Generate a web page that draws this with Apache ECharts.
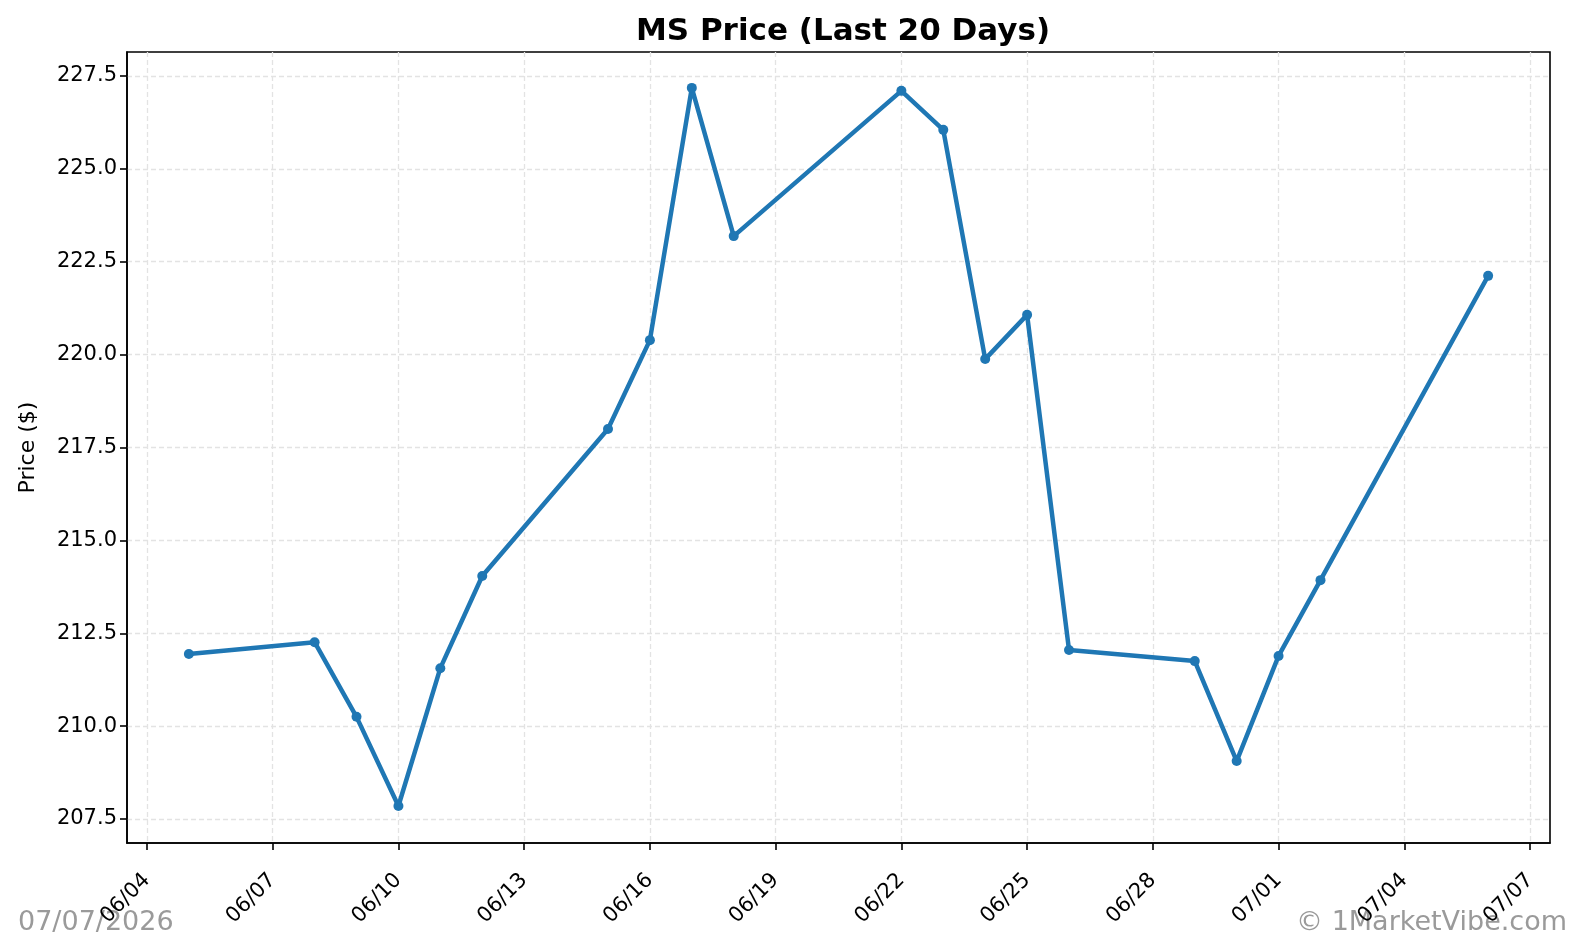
<!DOCTYPE html>
<html>
<head>
<meta charset="utf-8">
<script src="https://cdn.jsdelivr.net/npm/echarts@6/dist/echarts.min.js"></script>
<style>
html, body { margin: 0; padding: 0; background: #fff; }
#chart { width: 1582px; height: 942px; }
</style>
</head>
<body>
<div id="chart"></div>
<script>
// trading days and closing prices
var dates = ['2026-06-05', '2026-06-08', '2026-06-09', '2026-06-10', '2026-06-11',
  '2026-06-12', '2026-06-15', '2026-06-16', '2026-06-17', '2026-06-18',
  '2026-06-22', '2026-06-23', '2026-06-24', '2026-06-25', '2026-06-26',
  '2026-06-29', '2026-06-30', '2026-07-01', '2026-07-02', '2026-07-06'];
var prices = [211.94, 212.26, 210.25, 207.85, 211.56,
  214.04, 218.00, 220.39, 227.18, 223.19,
  227.10, 226.05, 219.88, 221.07, 212.05,
  211.75, 209.06, 211.89, 213.93, 222.12];

var xTickDates = ['2026-06-04', '2026-06-07', '2026-06-10', '2026-06-13', '2026-06-16',
  '2026-06-19', '2026-06-22', '2026-06-25', '2026-06-28', '2026-07-01',
  '2026-07-04', '2026-07-07'];
var yTicks = [207.5, 210.0, 212.5, 215.0, 217.5, 220.0, 222.5, 225.0, 227.5];

var DAY = 86400000;
function toDay(s) {
  var p = s.split('-');
  return Date.UTC(+p[0], +p[1] - 1, +p[2]) / DAY;
}
function fmtDay(v) {
  var d = new Date(Math.round(v) * DAY);
  var m = d.getUTCMonth() + 1, dd = d.getUTCDate();
  return (m < 10 ? '0' : '') + m + '/' + (dd < 10 ? '0' : '') + dd;
}

var seriesData = dates.map(function (d, i) { return [toDay(d), prices[i]]; });
var xTicks = xTickDates.map(toDay);

var chart = echarts.init(document.getElementById('chart'));
var font = 'DejaVu Sans';
var gridLine = { show: true, lineStyle: { color: '#e3e3e3', width: 1.3, type: [5, 3] } };
var wmStyle = {
  font: '27px "DejaVu Sans"', fill: '#9a9a9a',
  shadowColor: 'rgba(0,0,0,0.15)', shadowOffsetX: 1.5, shadowOffsetY: 1.5
};

var option = {
  animation: false,
  backgroundColor: '#fff',
  title: {
    text: 'MS Price (Last 20 Days)',
    left: 838,
    textAlign: 'center',
    top: 11,
    textStyle: { fontFamily: font, fontSize: 31, fontWeight: 'bold', color: '#000' }
  },
  grid: {
    left: 127, right: 32, top: 52, bottom: 99,
    show: true, borderColor: '#000', borderWidth: 1.6, backgroundColor: 'transparent'
  },
  xAxis: {
    type: 'value',
    min: xTicks[0] - 0.476,
    max: xTicks[xTicks.length - 1] + 0.476,
    axisLine: { show: true, lineStyle: { color: '#000', width: 1.6 } },
    axisTick: { show: true, length: 7, lineStyle: { color: '#000', width: 1.6 }, customValues: xTicks },
    axisLabel: {
      customValues: xTicks, rotate: 45, margin: 34,
      fontFamily: font, fontSize: 21, color: '#000',
      formatter: fmtDay
    },
    splitLine: gridLine
  },
  yAxis: {
    type: 'value',
    min: 206.854,
    max: 228.146,
    name: 'Price ($)',
    nameLocation: 'middle',
    nameGap: 88,
    nameTextStyle: { fontFamily: font, fontSize: 22, color: '#000' },
    axisLine: { show: true, lineStyle: { color: '#000', width: 1.6 } },
    axisTick: { show: true, length: 7, lineStyle: { color: '#000', width: 1.6 }, customValues: yTicks },
    axisLabel: {
      customValues: yTicks, margin: 10,
      fontFamily: font, fontSize: 21, color: '#000',
      formatter: function (v) { return v.toFixed(1); }
    },
    splitLine: gridLine
  },
  series: [{
    type: 'line',
    data: seriesData,
    symbol: 'circle',
    symbolSize: 10,
    showSymbol: true,
    lineStyle: { color: '#1f77b4', width: 4.5 },
    itemStyle: { color: '#1f77b4', borderWidth: 0 }
  }],
  graphic: [
    {
      type: 'text', left: 18, top: 909,
      style: Object.assign({ text: '07/07/2026' }, wmStyle)
    },
    {
      type: 'text', right: 15, top: 909,
      style: Object.assign({ text: '\u00a9 1MarketVibe.com' }, wmStyle)
    }
  ]
};

chart.setOption(option);
</script>
</body>
</html>
